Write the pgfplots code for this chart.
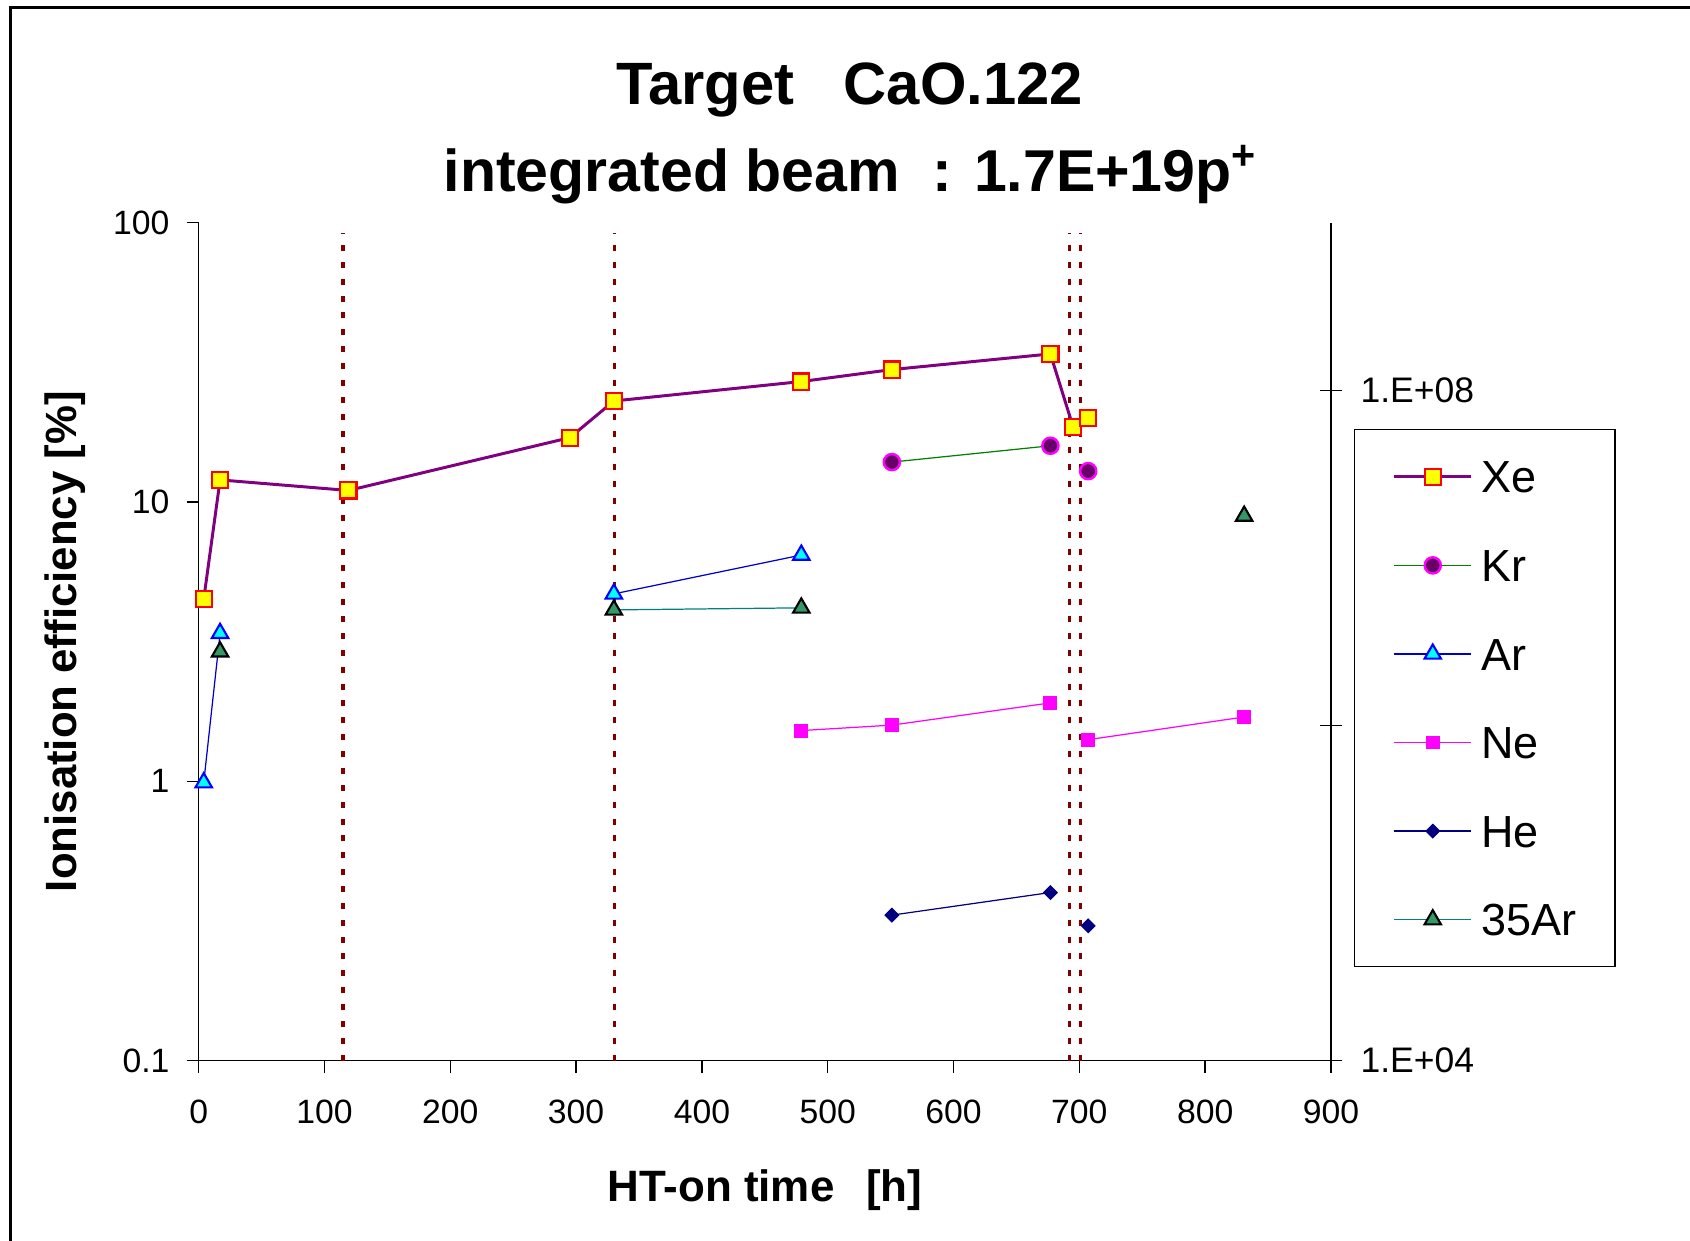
\documentclass[border=0pt]{standalone}
\usepackage{fontspec}
\setmainfont{Liberation Sans}
\usepackage{pgfplots}
\pgfplotsset{compat=1.18}

\definecolor{xeline}{RGB}{128,0,128}
\definecolor{krline}{RGB}{0,128,0}
\definecolor{krfill}{RGB}{102,0,102}
\definecolor{arline}{RGB}{0,0,204}
\definecolor{navyc}{RGB}{0,0,128}
\definecolor{tealc}{RGB}{0,128,128}
\definecolor{seagreen}{RGB}{51,153,102}
\definecolor{darkredc}{RGB}{128,0,0}
\definecolor{magc}{RGB}{255,0,255}
\definecolor{cyanc}{RGB}{0,255,255}
\definecolor{yellowc}{RGB}{255,255,0}
\definecolor{redc}{RGB}{255,0,0}
\definecolor{bluec}{RGB}{0,0,255}

\begin{document}
\begin{tikzpicture}
\useasboundingbox (-19.87mm,-18.03mm) rectangle (149.13mm,106.07mm);

% right-hand axis (counts)
\begin{axis}[
  at={(0mm,0mm)}, anchor=south west,
  scale only axis, width=113.23mm, height=83.8mm,
  xmin=0, xmax=900, ymode=log, ymin=1e4, ymax=1e9,
  axis x line=none, axis y line*=right,
  ytick={1e4,1e6,1e8}, yticklabels={1.E+04,,1.E+08},
  yminorticks=false,
  tick align=center, major tick length=2.27mm,
  tick style={black, line width=0.4pt},
  yticklabel style={font=\fontsize{10.1}{12}\selectfont, anchor=west, inner sep=0pt, xshift=5pt},
]
\end{axis}

\begin{axis}[
  at={(0mm,0mm)}, anchor=south west,
  scale only axis, width=113.23mm, height=83.8mm,
  xmin=0, xmax=900, ymode=log, ymin=0.1, ymax=100,
  axis x line*=bottom, axis y line*=left,
  xtick={0,100,...,900},
  ytick={0.1,1,10,100}, yticklabels={0.1,1,10,100},
  yminorticks=false,
  tick align=outside, major tick length=1.2mm,
  tick style={black, line width=0.4pt},
  /pgf/number format/assume math mode=true,
  ticklabel style={font=\fontsize{9.6}{11}\selectfont, inner sep=0pt},
  xticklabel style={anchor=base, yshift=-14.6pt},
  yticklabel style={anchor=east, xshift=-4.7pt},
  xlabel={HT-on time\hspace{9pt}[h]},
  xlabel style={at={(axis description cs:0.5,-0.1684)}, anchor=base,
    font=\fontsize{12.5}{15}\bfseries},
  ylabel={Ionisation efficiency [\%]},
  ylabel style={at={(axis description cs:-0.1075,0.5)}, anchor=base,
    font=\fontsize{12.45}{15}\bfseries},
  unbounded coords=jump, clip=false,
  legend style={at={(1.0200,0.7538)}, anchor=north west, draw=black, fill=white,
    inner xsep=11pt, inner ysep=8.8pt, row sep=16pt, column sep=2.5pt,
    nodes={inner sep=0pt, text height=9.2pt, text depth=0pt,
      font=\fontsize{12.8}{15}\selectfont}},
  legend cell align=left,
  legend image code/.code={\draw[mark repeat=2,mark phase=2,#1]
    plot coordinates {(0mm,0mm) (3.83mm,0mm) (7.67mm,0mm)};},
]
% vertical markers
\addplot[forget plot, darkredc, line width=1pt, dash pattern=on 1.7pt off 3.1pt] coordinates {
  (114.5,0.1) (114.5,92) (200,nan)
  (330.4,0.1) (330.4,92) (500,nan)
  (692,0.1) (692,92) (696,nan)
  (701,0.1) (701,92)
};
% Xe
\addplot[xeline, line width=0.85pt, mark=square*, mark size=2.3pt,
  mark options={draw=redc, fill=yellowc, line width=0.6pt, solid}] coordinates {
  (4,4.49) (17,12.0) (119,11.0) (295,17.0) (330,23.0) (479,27.0)
  (551,29.8) (677,33.9) (695,18.6) (707,20.0)
};
\addlegendentry{Xe}
% Kr
\addplot[krline, line width=0.35pt, mark=*, mark size=2.3pt,
  mark options={draw=magc, fill=krfill, line width=0.7pt}] coordinates {
  (551,13.9) (677,15.9) (692,nan) (707,12.9)
};
\addlegendentry{Kr}
% Ar
\addplot[arline, line width=0.35pt, mark=triangle*, mark size=2.7pt,
  mark options={draw=bluec, fill=cyanc, line width=0.6pt}] coordinates {
  (4,0.99) (17,3.39) (100,nan) (330,4.69) (479,6.46)
};
\addlegendentry{Ar}
% Ne
\addplot[magc, line width=0.35pt, mark=square*, mark size=1.8pt,
  mark options={draw=magc, fill=magc}] coordinates {
  (479,1.52) (551,1.59) (677,1.91) (692,nan) (707,1.41) (831,1.70)
};
\addlegendentry{Ne}
% He
\addplot[navyc, line width=0.35pt, mark=square*, mark size=1.35pt,
  mark options={rotate=45, draw=navyc, fill=navyc}] coordinates {
  (551,0.332) (677,0.400) (692,nan) (707,0.304)
};
\addlegendentry{He}
% 35Ar
\addplot[tealc, line width=0.35pt, mark=triangle*, mark size=2.7pt,
  mark options={draw=black, fill=seagreen, line width=0.6pt}] coordinates {
  (17,2.91) (100,nan) (330,4.11) (479,4.18) (600,nan) (831,8.91)
};
\addlegendentry{35Ar}
\end{axis}

% outer frame (cut by the image edge on the right and at the bottom)
\draw[line width=0.85pt] (-18.82mm,-18.03mm) -- (-18.82mm,105.34mm) -- (149.13mm,105.34mm);

\node[anchor=base, font=\fontsize{17}{20}\bfseries] at (65.1mm,95.57mm) {Target\hspace{14pt}CaO.122};
\node[anchor=base, font=\fontsize{16.8}{20}\bfseries] at (65.2mm,86.95mm) {integrated beam\ \ : 1.7E+19p\textsuperscript{+}};
\end{tikzpicture}
\end{document}
